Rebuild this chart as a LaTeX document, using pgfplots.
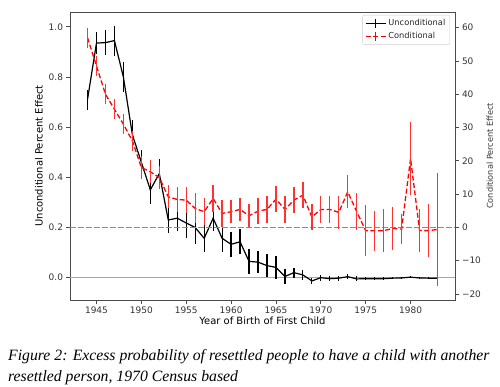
\documentclass[border=0pt]{standalone}
\usepackage{pgfplots}
\usepackage{pgfplotstable}
\pgfplotsset{compat=1.18}
\usepackage{fontspec}
\setmainfont{DejaVu Sans}
\newfontfamily\capfont{Liberation Serif}

\pgfplotstableread{
x y e
1944 0.71 0.04
1945 0.935 0.045
1946 0.937 0.05
1947 0.945 0.06
1948 0.80 0.06
1949 0.57 0.06
1950 0.46 0.05
1951 0.35 0.057
1952 0.415 0.06
1953 0.23 0.05
1954 0.237 0.05
1955 0.218 0.06
1956 0.20 0.065
1957 0.157 0.055
1958 0.237 0.05
1959 0.157 0.055
1960 0.133 0.05
1961 0.143 0.05
1962 0.065 0.05
1963 0.062 0.045
1964 0.048 0.045
1965 0.041 0.045
1966 0.005 0.03
1967 0.02 0.02
1968 0.011 0.02
1969 -0.013 0.012
1970 0.0 0.012
1971 -0.004 0.01
1972 -0.002 0.01
1973 0.004 0.01
1974 -0.005 0.01
1975 -0.004 0.006
1976 -0.004 0.006
1977 -0.004 0.005
1978 -0.002 0.004
1979 -0.001 0.004
1980 0.002 0.004
1981 -0.001 0.003
1982 -0.002 0.003
1983 -0.002 0.003
}\uncond

\pgfplotstableread{
x y e
1944 57 3
1945 48.5 3
1946 40 3
1947 35.5 3
1948 31 3
1949 26 3
1950 18 3.5
1951 16.7 3.5
1952 15 3.5
1953 9.2 3.5
1954 8.4 3.8
1955 8.2 4
1956 5.7 4.5
1957 4.7 4
1958 8.7 4
1959 4.2 4
1960 4.7 3.5
1961 5.4 3.5
1962 3.5 3.5
1963 4.9 4
1964 5.4 4
1965 8.5 4
1966 5.4 4
1967 8.2 4
1968 9.7 4
1969 3.1 4
1970 5.4 4
1971 5.4 4
1972 4.5 5
1973 10.7 5
1974 4.7 5.5
1975 -1.0 7.7
1976 -1.0 6
1977 -1.0 6.5
1978 -0.3 6.5
1979 -0.5 4.5
1980 20.7 11
1981 -0.9 6.5
1982 -1.0 8
1983 -0.6 17
}\cond

\pgfplotstableread{
x y
1942.05 0
1984.95 0
}\zeroline

\definecolor{mplred}{RGB}{255,0,0}
\definecolor{barred}{RGB}{255,50,50}
\definecolor{zred}{RGB}{255,90,90}
\definecolor{spine}{gray}{0.3}

\pgfplotsset{
  common/.style={
    at={(0,0)}, anchor=south west,
    scale only axis, width=385bp, height=288bp,
    xmin=1942.05, xmax=1984.95,
    axis line style={spine, line width=0.9bp},
    tick style={spine, line width=0.8bp},
    tick align=outside, major tick length=3.5bp,
    ticklabel style={font=\fontsize{9}{10}\selectfont, text=black!80},
    label style={font=\fontsize{8.2}{10}\selectfont, text=black!80},
    /pgf/number format/assume math mode=true,
    /pgf/number format/1000 sep={},
  },
}

\begin{document}
\begin{tikzpicture}
\begin{axis}[common,
  axis lines=box, xtick pos=bottom, ytick pos=left,
  ymin=-0.089, ymax=1.059,
  xtick={1945,1950,...,1980},
  ytick={0,0.2,...,1.0},
  yticklabel style={/pgf/number format/fixed, /pgf/number format/fixed zerofill, /pgf/number format/precision=1},
  xlabel={Year of Birth of First Child},
  ylabel={Unconditional Percent Effect},
  xlabel style={yshift=4bp},
  ylabel style={yshift=-1bp},
]
\addplot[gray!70, line width=1.2bp, forget plot] table[x=x, y=y] {\zeroline};
\addplot[black, line width=1.2bp, no markers,
  error bars/.cd, y dir=both, y explicit, error mark=none,
  error bar style={black, line width=1.2bp, solid}]
  table[x=x, y=y, y error=e] {\uncond};
\end{axis}
\begin{axis}[common,
  axis x line=none, axis y line*=right,
  ymin=-21.8, ymax=64.7,
  ytick={-20,-10,...,60},
  yticklabels={−20,−10,0,10,20,30,40,50,60},
  ylabel={Conditional Percent Effect},
  ylabel style={yshift=1bp},
  legend style={at={(0.987,0.99)}, anchor=north east, draw=black!20, rounded corners=2bp,
    font=\fontsize{8.3}{10}\selectfont, inner sep=2.5bp, row sep=1bp,
    cells={anchor=west, text=black!85}},
  legend image code/.code={
    \draw[#1] (0bp,0bp) -- (20bp,0bp);
    \draw[#1, solid] (10bp,-4.5bp) -- (10bp,4.5bp);
  },
]
\addplot[zred, line width=1.4bp, dash pattern=on 5.5bp off 2.5bp, forget plot] table[x=x, y=y] {\zeroline};
\addlegendimage{black, line width=1.2bp}
\addlegendentry{Unconditional}
\addplot[mplred, line width=1.3bp, dash pattern=on 5bp off 2.5bp, no markers,
  error bars/.cd, y dir=both, y explicit, error mark=none,
  error bar style={barred, line width=1.3bp, solid}]
  table[x=x, y=y, y error=e] {\cond};
\addlegendentry{Conditional}
\end{axis}
\node[anchor=base west, inner sep=0pt, font=\capfont\itshape\fontsize{15.8}{18}\selectfont] at (-62bp,-60bp) {Figure 2: Excess probability of resettled people to have a child with another};
\node[anchor=base west, inner sep=0pt, font=\capfont\itshape\fontsize{15.8}{18}\selectfont] at (-62bp,-81bp) {resettled person, 1970 Census based};
\useasboundingbox (-70bp,-87bp) rectangle (430bp,300bp);
\end{tikzpicture}
\end{document}
